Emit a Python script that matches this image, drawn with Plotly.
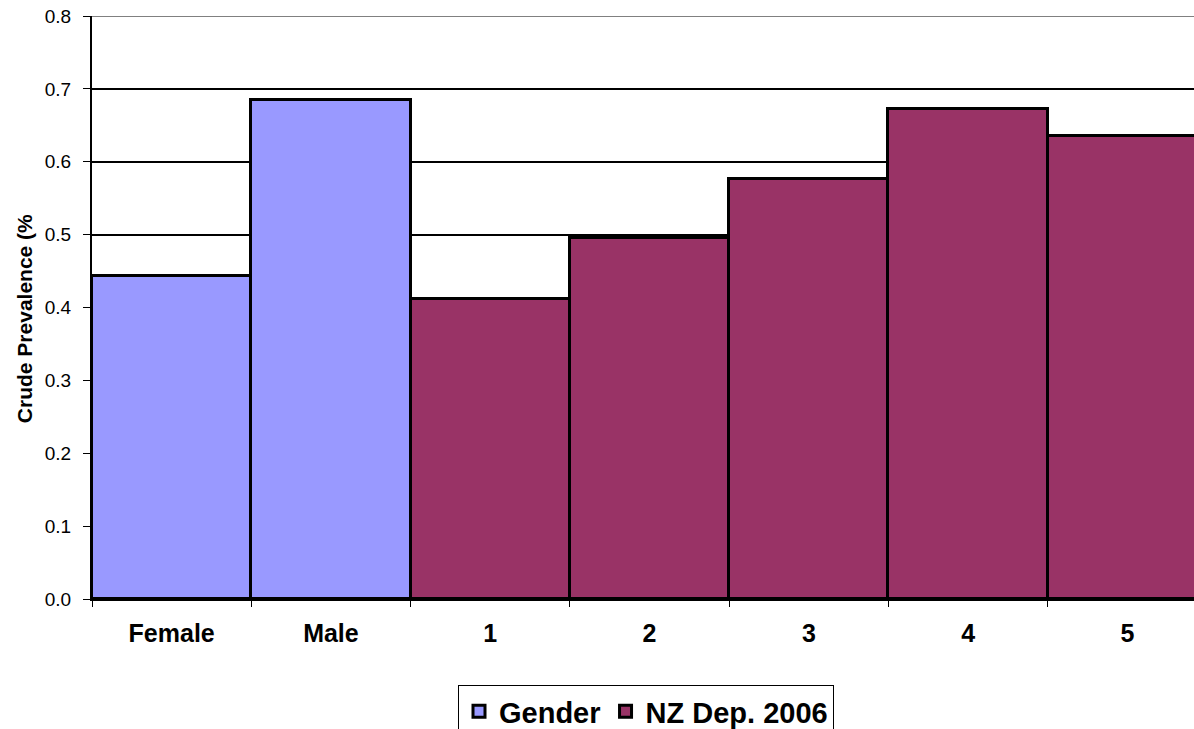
import plotly.graph_objects as go

# Crude prevalence by group
gender_labels = ["Female", "Male"]
gender_values = [0.443, 0.685]
dep_labels = ["1", "2", "3", "4", "5"]
dep_values = [0.412, 0.495, 0.576, 0.673, 0.635]
y_ticks = [0.0, 0.1, 0.2, 0.3, 0.4, 0.5, 0.6, 0.7, 0.8]

FONT = "Arial, Liberation Sans, sans-serif"

fig = go.Figure()
fig.add_trace(go.Bar(
    x=gender_labels, y=gender_values, name="Gender",
    marker=dict(color="#9999FF", line=dict(color="black", width=3)),
    width=1,
))
fig.add_trace(go.Bar(
    x=dep_labels, y=dep_values, name="NZ Dep. 2006",
    marker=dict(color="#993366", line=dict(color="black", width=3)),
    width=1,
))

fig.update_layout(
    width=1194, height=729,
    margin=dict(l=92, r=0, t=16, b=130),
    paper_bgcolor="white", plot_bgcolor="white",
    barmode="overlay", bargap=0,
    font=dict(family=FONT, color="black"),
    showlegend=True,
    legend=dict(
        orientation="h",
        xref="container", yref="container",
        x=458 / 1194, xanchor="left",
        y=1 - 685 / 729, yanchor="top",
        bordercolor="black", borderwidth=1,
        font=dict(family=FONT, size=29, color="black", weight="bold"),
        itemwidth=30, tracegroupgap=0,
    ),
)

fig.update_xaxes(
    type="category",
    categoryorder="array", categoryarray=gender_labels + dep_labels,
    range=[-0.5, 6.418],
    tickson="boundaries", ticks="outside", ticklen=6, tickcolor="black",
    showline=True, linecolor="black", linewidth=2,
    showgrid=False,
    tickfont=dict(family=FONT, size=25, color="black", weight="bold"),
    ticklabelstandoff=11,
)

fig.update_yaxes(
    range=[0, 0.8],
    tickvals=y_ticks, tickformat=".1f",
    ticks="outside", ticklen=7, tickcolor="black",
    showline=True, linecolor="black", linewidth=2,
    showgrid=True, gridcolor="black", gridwidth=1.5,
    zeroline=False,
    tickfont=dict(family=FONT, size=19, color="black"),
    ticklabelstandoff=8,
)

# Top border line of the plotting area
fig.add_shape(
    type="line", xref="paper", yref="y",
    x0=0, x1=1, y0=0.8, y1=0.8,
    line=dict(color="#808080", width=2), layer="below",
)

# Rotated axis title
fig.add_annotation(
    text="<b>Crude Prevalence (%</b>",
    xref="paper", yref="paper",
    x=-68 / 1102, y=0.48,
    xanchor="center", yanchor="middle",
    textangle=-90, showarrow=False,
    font=dict(family=FONT, size=21, color="black"),
)

fig.write_html("out.html")
